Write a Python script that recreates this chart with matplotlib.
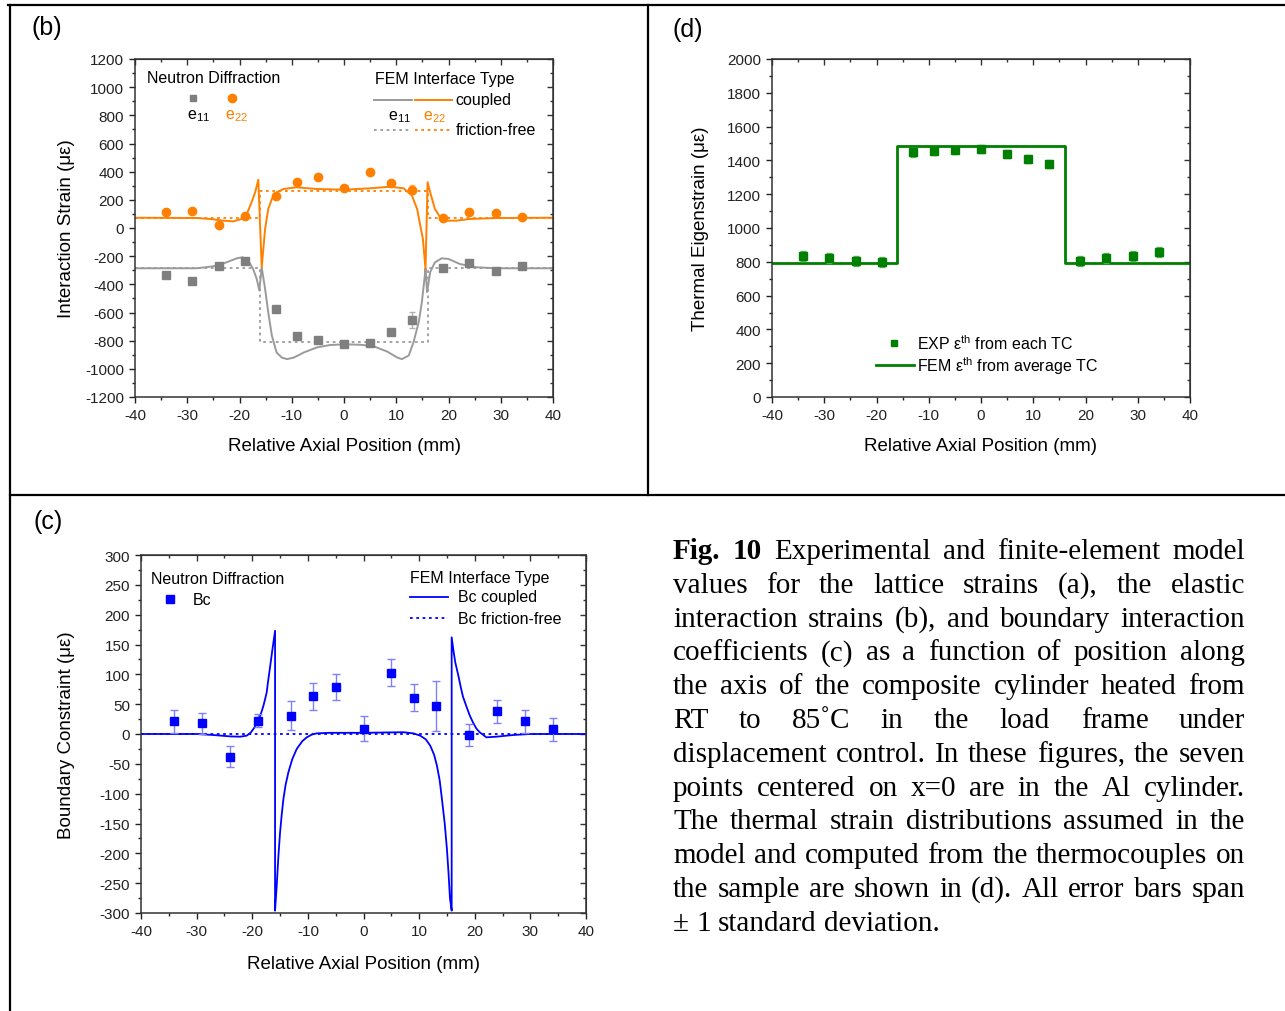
import matplotlib
matplotlib.use('Agg')
import matplotlib.pyplot as plt
from matplotlib.ticker import MultipleLocator
from matplotlib.lines import Line2D

plt.rcParams['font.family'] = ['Liberation Sans', 'DejaVu Sans']
plt.rcParams['mathtext.fontset'] = 'custom'
plt.rcParams['mathtext.rm'] = 'Liberation Sans'
plt.rcParams['mathtext.it'] = 'Liberation Sans:italic'
plt.rcParams['axes.unicode_minus'] = False

# ---------------- data ----------------
pos = [-34, -29, -24, -19, -13, -9, -5, 0, 5, 9, 13, 19, 24, 29, 34]

# panel (b): interaction strain
e11_exp = [-332, -376, -270, -237, -578, -765, -793, -826, -815, -741, -653, -284, -246, -305, -268]
e11_err = [15, 15, 15, 15, 20, 15, 15, 15, 15, 15, 55, 15, 15, 15, 15]
e22_exp = [116, 123, 21, 88, 225, 329, 362, 282, 400, 320, 272, 71, 111, 104, 78]
e22_err = [12, 12, 12, 12, 22, 12, 12, 15, 12, 12, 30, 12, 12, 12, 12]

e22_fem_x = [-40, -28.2, -25.6, -23.1, -21.2, -19.6, -18.6, -17.7, -17.0, -16.4,
             -15.75, -15.1, -14.5, -13.8, -12.9, -11.6, -9.1, -5.2, 0, 5.0,
             8.8, 11.4, 13.0, 14.0, 14.6, 15.1, 15.6, 16.0, 16.5, 17.4,
             18.4, 19.3, 21.5, 24.1, 29.2, 40]
e22_fem_y = [73, 71, 64, 52, 47, 64, 99, 182, 253, 343,
             -279, -7, 135, 206, 253, 277, 289, 277, 272, 282,
             293, 282, 230, 135, 17, -78, -291, 325, 253, 135,
             76, 52, 52, 64, 71, 73]

e11_fem_x = [-40, -28.2, -25.0, -22.5, -20.5, -19.4, -18.3, -17.4, -16.7, -16.2,
             -15.75, -15.4, -15.1, -14.5, -13.8, -12.9, -11.9, -10.9, -9.6, -7.7,
             -5.2, -2.7, 0, 3.1, 5.7, 8.3, 10.2, 11.1, 12.4, 13.3,
             14.3, 14.9, 15.4, 15.6, 15.9, 16.5, 17.4, 18.7, 20.0, 22.2,
             25.4, 29.2, 40]
e11_fem_y = [-286, -286, -272, -244, -215, -208, -232, -291, -362, -445,
             -279, -362, -433, -599, -765, -884, -920, -931, -920, -884,
             -848, -831, -826, -829, -840, -878, -920, -931, -905, -811,
             -669, -527, -362, -286, -455, -313, -244, -215, -220, -256,
             -279, -286, -286]

ff_x = [-40, -16, -16, 16, 16, 40]
ff_e11 = [-283, -283, -812, -812, -283, -283]
ff_e22 = [73, 73, 262, 262, 73, 73]

# panel (d): thermal eigenstrain
th_exp = [832, 822, 807, 797, 1448, 1456, 1462, 1467, 1438, 1408, 1379, 803, 821, 836, 856]
th_err = [30, 30, 30, 30, 25, 25, 25, 25, 25, 25, 25, 30, 30, 30, 30]
th_fem_x = [-40, -16, -16, 16, 16, 40]
th_fem_y = [793, 793, 1487, 1487, 793, 793]

# panel (c): boundary constraint
bc_exp = [21, 18, -38, 22, 31, 63, 79, 9, 103, 61, 47, -2, 38, 21, 8]
bc_err = [20, 18, 18, 11, 24, 22, 22, 21, 22, 22, 42, 18, 19, 19, 19]
bc_fem_x = [-40, -30, -27, -24, -22.2, -21.0, -20.3, -19.8, -19.4, -19.0,
            -18.6, -18.3, -18.0, -17.7, -17.4, -17.2, -16.8, -16.4, -15.9, -15.9,
            -15.6, -15.3, -15.0, -14.7, -14.4, -14.0, -13.5, -12.8, -12.0, -11.0,
            -10.2, -9.3, -8.4, -6, 0, 7.2, 9.0, 10.2, 11.2, 12.0,
            12.7, 13.2, 13.7, 14.1, 14.6, 15.0, 15.3, 15.55, 15.85, 15.85,
            16.2, 16.5, 17.0, 17.5, 17.9, 18.55, 19.1, 19.7, 20.3, 20.9,
            22.1, 23.9, 26.9, 30, 40]
bc_fem_y = [0, 0, -1.7, -4, -4.5, -2.8, 2, 8.4, 14, 21,
            30, 38, 47, 58, 70, 85, 112, 140, 173, -296,
            -254, -205, -165, -135, -109, -85, -64, -42, -25, -12,
            -5.6, -1, 1.1, 2, 2, 3, 1, -2.8, -9, -19.6,
            -35, -53, -78, -109, -150, -193, -235, -276, -296, 162,
            138, 120, 100, 78, 62, 45, 31, 19, 9, 2.8,
            -5.6, -4.5, -1.7, 0, 0]
bc_ff_x = [-40, 40]
bc_ff_y = [0, 0]

caption_lines = [
    "Fig. 10 Experimental and finite-element model",
    "values for the lattice strains (a), the elastic",
    "interaction strains (b), and boundary interaction",
    "coefficients (c) as a function of position along",
    "the axis of the composite cylinder heated from",
    "RT to 85\u02daC in the load frame under",
    "displacement control. In these figures, the seven",
    "points centered on x=0 are in the Al cylinder.",
    "The thermal strain distributions assumed in the",
    "model and computed from the thermocouples on",
    "the sample are shown in (d). All error bars span",
    "\u00b1 1 standard deviation.",
]

ORANGE = '#FF8000'
GRAY_M = '#7f7f7f'
GRAY_L = '#9a9a9a'
GREEN = '#008000'
BLUE = '#0000FF'

W, H = 1285, 1012
fig = plt.figure(figsize=(W / 100, H / 100), dpi=100)

TICK_FS = 11
LAB_FS = 13.5
LEG_FS = 11.5


def style_axes(ax, xmaj, xmin, ymaj, ymin):
    ax.xaxis.set_major_locator(MultipleLocator(xmaj))
    ax.xaxis.set_minor_locator(MultipleLocator(xmin))
    ax.yaxis.set_major_locator(MultipleLocator(ymaj))
    ax.yaxis.set_minor_locator(MultipleLocator(ymin))
    ax.tick_params(which='both', direction='out', labelsize=TICK_FS, colors='#222222')
    ax.tick_params(which='major', length=4.5, width=1)
    ax.tick_params(which='minor', length=2.5, width=1)
    for s in ax.spines.values():
        s.set_color('#333333')
        s.set_linewidth(1.1)
    sx = ax.secondary_xaxis('top')
    sx.xaxis.set_major_locator(MultipleLocator(xmaj))
    sx.xaxis.set_minor_locator(MultipleLocator(xmin))
    sx.tick_params(which='both', direction='in', labeltop=False, colors='#333333')
    sx.tick_params(which='major', length=4.5, width=1)
    sx.tick_params(which='minor', length=2.5, width=1)
    sx.spines['top'].set_color('#333333')
    sy = ax.secondary_yaxis('right')
    sy.yaxis.set_major_locator(MultipleLocator(ymaj))
    sy.yaxis.set_minor_locator(MultipleLocator(ymin))
    sy.tick_params(which='both', direction='in', labelright=False, colors='#333333')
    sy.tick_params(which='major', length=4.5, width=1)
    sy.tick_params(which='minor', length=2.5, width=1)
    sy.spines['right'].set_color('#333333')


def axes_rect(l, r, t, b):
    return [l / W, 1 - b / H, (r - l) / W, (b - t) / H]


# ---------------- panel (b) ----------------
axb = fig.add_axes(axes_rect(135, 553, 60, 398))
axb.plot(ff_x, ff_e11, color=GRAY_L, lw=1.3, ls=(0, (1.5, 2)))
axb.plot(ff_x, ff_e22, color=ORANGE, lw=1.3, ls=(0, (1.5, 2)))
axb.plot(e11_fem_x, e11_fem_y, color=GRAY_L, lw=1.4)
axb.plot(e22_fem_x, e22_fem_y, color=ORANGE, lw=1.4)
axb.errorbar(pos, e11_exp, yerr=e11_err, fmt='s', color=GRAY_M, ms=5.5,
             ecolor='#b0b0b0', elinewidth=1, capsize=2.5, zorder=5)
axb.errorbar(pos, e22_exp, yerr=e22_err, fmt='o', color=ORANGE, ms=6,
             ecolor='#ffc080', elinewidth=1, capsize=2.5, zorder=5)
axb.set_xlim(-40, 40)
axb.set_ylim(-1200, 1200)
style_axes(axb, 10, 5, 200, 100)
axb.set_xlabel('Relative Axial Position (mm)', fontsize=LAB_FS)
axb.set_ylabel('Interaction Strain (\u03bc\u03b5)', fontsize=LAB_FS)
axb.xaxis.set_label_coords(0.5, -0.117)
axb.yaxis.set_label_coords(-0.1436, 0.5)

T = axb.transAxes
axb.text(0.0287, 0.944, 'Neutron Diffraction', transform=T, fontsize=LEG_FS, va='center', ha='left')
axb.plot([0.1388], [0.8846], 's', color=GRAY_M, ms=5, transform=T, clip_on=False)
axb.plot([0.232], [0.8846], 'o', color=ORANGE, ms=6, transform=T, clip_on=False)
axb.text(0.153, 0.834, r'e$_{\rm 11}$', transform=T, fontsize=LEG_FS, va='center', ha='center')
axb.text(0.2416, 0.834, r'e$_{\rm 22}$', transform=T, fontsize=LEG_FS, va='center', ha='center', color=ORANGE)
axb.text(0.574, 0.941, 'FEM Interface Type', transform=T, fontsize=LEG_FS, va='center', ha='left')
axb.plot([0.5718, 0.6627], [0.8787, 0.8787], color=GRAY_L, lw=1.4, transform=T)
axb.plot([0.6699, 0.7584], [0.8787, 0.8787], color=ORANGE, lw=1.4, transform=T)
axb.text(0.7656, 0.8787, 'coupled', transform=T, fontsize=LEG_FS, va='center', ha='left')
axb.text(0.634, 0.831, r'e$_{\rm 11}$', transform=T, fontsize=LEG_FS, va='center', ha='center')
axb.text(0.7153, 0.831, r'e$_{\rm 22}$', transform=T, fontsize=LEG_FS, va='center', ha='center', color=ORANGE)
axb.plot([0.5718, 0.6627], [0.79, 0.79], color=GRAY_L, lw=1.3, ls=(0, (1.5, 2)), transform=T)
axb.plot([0.6699, 0.7584], [0.79, 0.79], color=ORANGE, lw=1.3, ls=(0, (1.5, 2)), transform=T)
axb.text(0.768, 0.79, 'friction-free', transform=T, fontsize=LEG_FS, va='center', ha='left')

# ---------------- panel (d) ----------------
axd = fig.add_axes(axes_rect(772, 1190, 60, 398))
axd.plot(th_fem_x, th_fem_y, color=GREEN, lw=2)
axd.errorbar(pos, th_exp, yerr=th_err, fmt='s', color=GREEN, ms=5.5,
             ecolor='#66b366', elinewidth=1, capsize=2, zorder=5)
axd.set_xlim(-40, 40)
axd.set_ylim(0, 2000)
style_axes(axd, 10, 5, 200, 100)
axd.set_xlabel('Relative Axial Position (mm)', fontsize=LAB_FS)
axd.set_ylabel('Thermal Eigenstrain (\u03bc\u03b5)', fontsize=LAB_FS)
axd.xaxis.set_label_coords(0.5, -0.117)
axd.yaxis.set_label_coords(-0.1507, 0.5)
T = axd.transAxes
axd.plot([0.2919], [0.1598], 's', color=GREEN, ms=5, transform=T)
axd.text(0.347, 0.1598, 'EXP \u03b5$^{\\rm th}$ from each TC', transform=T,
         fontsize=LEG_FS, va='center', ha='left')
axd.plot([0.2488, 0.3397], [0.0947, 0.0947], color=GREEN, lw=2, transform=T)
axd.text(0.347, 0.0947, 'FEM \u03b5$^{\\rm th}$ from average TC', transform=T,
         fontsize=LEG_FS, va='center', ha='left')

# ---------------- panel (c) ----------------
axc = fig.add_axes(axes_rect(141, 586, 556, 914))
axc.plot(bc_ff_x, bc_ff_y, color=BLUE, lw=1.3, ls=(0, (1.5, 2)))
axc.plot(bc_fem_x, bc_fem_y, color=BLUE, lw=1.3)
axc.errorbar(pos, bc_exp, yerr=bc_err, fmt='s', color=BLUE, ms=5.5,
             ecolor='#8080ff', elinewidth=1, capsize=3, zorder=5)
axc.set_xlim(-40, 40)
axc.set_ylim(-300, 300)
style_axes(axc, 10, 5, 50, 25)
axc.set_xlabel('Relative Axial Position (mm)', fontsize=LAB_FS)
axc.set_ylabel('Boundary Constraint (\u03bc\u03b5)', fontsize=LAB_FS)
axc.xaxis.set_label_coords(0.5, -0.117)
axc.yaxis.set_label_coords(-0.1485, 0.5)
T = axc.transAxes
axc.text(0.0225, 0.933, 'Neutron Diffraction', transform=T, fontsize=LEG_FS, va='center', ha='left')
axc.plot([0.0652], [0.877], 's', color=BLUE, ms=5.5, transform=T)
axc.text(0.1169, 0.877, 'Bc', transform=T, fontsize=LEG_FS, va='center', ha='left')
axc.text(0.6045, 0.9385, 'FEM Interface Type', transform=T, fontsize=LEG_FS, va='center', ha='left')
axc.plot([0.6045, 0.69], [0.8827, 0.8827], color=BLUE, lw=1.3, transform=T)
axc.text(0.7124, 0.8827, 'Bc coupled', transform=T, fontsize=LEG_FS, va='center', ha='left')
axc.plot([0.6045, 0.69], [0.824, 0.824], color=BLUE, lw=1.3, ls=(0, (1.5, 2)), transform=T)
axc.text(0.7124, 0.824, 'Bc friction-free', transform=T, fontsize=LEG_FS, va='center', ha='left')

# ---------------- panel letters ----------------
for lbl, px, py in [('(b)', 47, 28), ('(d)', 688, 30), ('(c)', 48, 522)]:
    fig.text(px / W, 1 - py / H, lbl, fontsize=18, ha='center', va='center')

# ---------------- frame lines ----------------
def fline(x0, y0, x1, y1, lw=1.6):
    fig.add_artist(Line2D([x0 / W, x1 / W], [1 - y0 / H, 1 - y1 / H],
                          color='black', lw=lw, transform=fig.transFigure))

fline(8, 6, 1285, 6)
fline(10, 6, 10, 1012)
fline(648, 6, 648, 496)
fline(10, 496, 1285, 496)

# ---------------- caption (justified) ----------------
fig.canvas.draw()
rend = fig.canvas.get_renderer()
CAP_FS = 21
serif = ['Liberation Serif', 'DejaVu Serif']
x_left, x_right = 673, 1245
probe_a = fig.text(0, 0, 'a a', fontsize=CAP_FS, family=serif)
probe_b = fig.text(0, 0, 'aa', fontsize=CAP_FS, family=serif)
space_w = probe_a.get_window_extent(rend).width - probe_b.get_window_extent(rend).width
probe_a.remove()
probe_b.remove()
for i, line in enumerate(caption_lines):
    words = line.split(' ')
    yb = 1 - (559 + i * 33.8) / H
    txts = []
    for j, wd in enumerate(words):
        bold = (i == 0 and j < 2)
        t = fig.text(0, yb, wd, fontsize=CAP_FS, family=serif,
                     weight='bold' if bold else 'normal', va='baseline', ha='left')
        txts.append(t)
    widths = [t.get_window_extent(rend).width for t in txts]
    if i == len(caption_lines) - 1 or len(words) == 1:
        gap = space_w
    else:
        gap = (x_right - x_left - sum(widths)) / (len(words) - 1)
    x = x_left
    for t, wdt in zip(txts, widths):
        t.set_x(x / W)
        x += wdt + gap

fig.savefig('out.png', dpi=100)
